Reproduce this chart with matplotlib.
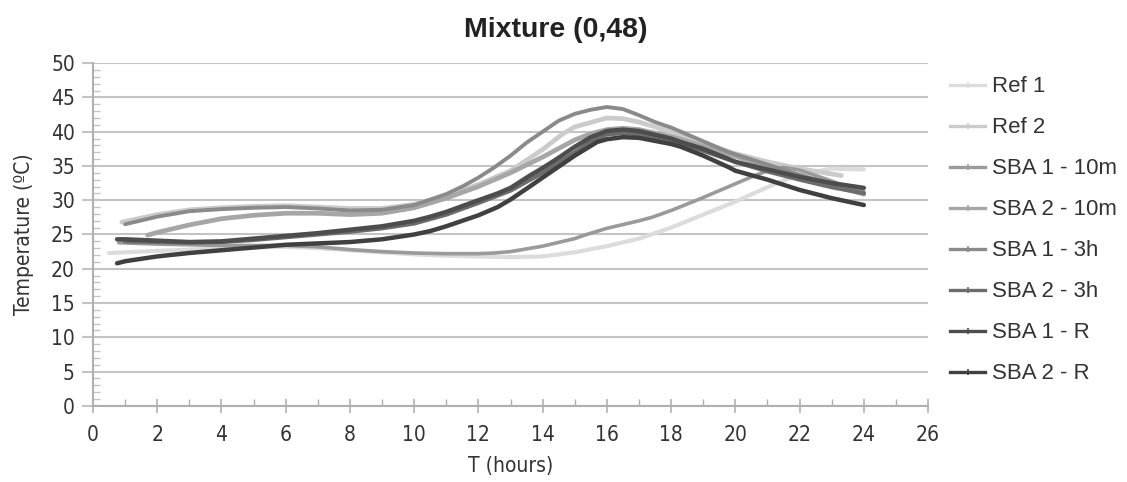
import matplotlib.pyplot as plt
from matplotlib.lines import Line2D
from matplotlib.ticker import MultipleLocator

# dados (T em horas, temperatura em ºC)
t_ref1 = [0.5, 1, 2, 3, 4, 5, 6, 7, 8, 9, 10, 11, 12, 13, 14, 15, 16, 17, 18, 19, 20, 21, 22, 23, 24]
v_ref1 = [22.3, 22.4, 22.6, 22.8, 23.0, 23.1, 23.2, 23.0, 22.7, 22.4, 22.1, 21.9, 21.8, 21.7, 21.8, 22.4,
          23.3, 24.4, 26.0, 27.9, 29.8, 31.9, 33.8, 34.6, 34.5]

t_ref2 = [0.9, 2, 3, 4, 5, 6, 7, 8, 9, 10, 11, 12, 13, 14, 14.6, 15, 16, 16.5, 17, 18, 19, 20, 21, 22, 23.3]
v_ref2 = [26.8, 27.9, 28.6, 28.9, 29.1, 29.2, 29.0, 28.8, 28.8, 29.4, 30.6, 32.3, 34.3, 37.4, 39.6, 40.7,
          42.0, 41.9, 41.4, 40.0, 38.3, 36.8, 35.6, 34.6, 33.6]

t_sba1_10m = [0.8, 2, 3, 4, 5, 6, 7, 7.5, 8, 9, 10, 11, 12, 12.5, 13, 14, 15, 15.3, 16, 17, 17.4, 18, 18.9,
              19.5, 20, 20.5, 21, 21.5, 22, 23, 24]
v_sba1_10m = [23.8, 23.6, 23.5, 23.4, 23.4, 23.4, 23.2, 23.0, 22.8, 22.5, 22.3, 22.2, 22.2, 22.3, 22.5, 23.3,
              24.4, 24.9, 25.9, 27.0, 27.5, 28.5, 30.2, 31.4, 32.4, 33.4, 34.3, 34.8, 34.4, 32.8, 31.0]

t_sba2_10m = [1.7, 2, 3, 4, 5, 6, 7, 8, 9, 10, 11, 12, 13, 14, 15, 15.5, 16, 16.5, 17, 18, 19, 20, 21, 22, 23, 24]
v_sba2_10m = [24.9, 25.3, 26.4, 27.3, 27.8, 28.1, 28.1, 27.9, 28.1, 28.9, 30.3, 32.0, 34.0, 36.3, 38.8, 39.7,
              40.3, 40.5, 40.3, 39.3, 37.9, 36.4, 35.0, 33.6, 32.2, 30.9]

t_sba1_3h = [1, 2, 3, 4, 5, 6, 7, 8, 9, 10, 11, 11.5, 12, 12.5, 13, 13.5, 14, 14.5, 15, 15.5, 16, 16.5, 17,
             17.5, 18, 18.5, 19, 19.8, 21, 22, 23, 24]
v_sba1_3h = [26.5, 27.6, 28.4, 28.7, 28.9, 29.0, 28.8, 28.5, 28.6, 29.3, 30.9, 32.0, 33.3, 34.8, 36.5, 38.4,
             40.0, 41.6, 42.6, 43.2, 43.6, 43.3, 42.4, 41.4, 40.6, 39.6, 38.6, 37.0, 35.2, 33.7, 32.3, 31.2]

t_sba2_3h = [1, 2, 3, 4, 5, 6, 7, 8, 9, 10, 11, 12, 13, 14, 15, 15.5, 16, 16.5, 17, 18, 19, 20, 21, 22, 23, 24]
v_sba2_3h = [24.0, 23.9, 23.8, 23.9, 24.2, 24.6, 25.0, 25.4, 25.9, 26.6, 27.9, 29.6, 31.4, 34.0, 37.0, 38.6,
             39.6, 39.8, 39.6, 38.6, 37.2, 35.6, 34.2, 33.0, 31.9, 31.0]

t_sba1_r = [0.75, 1, 2, 3, 4, 5, 6, 7, 8, 9, 10, 10.5, 11, 12, 12.6, 13, 13.6, 14, 14.5, 15, 15.5, 16, 16.5,
            17, 18, 18.3, 19, 19.8, 20, 21, 22, 23, 24]
v_sba1_r = [24.3, 24.3, 24.1, 23.9, 24.0, 24.4, 24.8, 25.2, 25.7, 26.2, 27.0, 27.6, 28.3, 30.0, 31.0, 31.8,
            33.6, 34.7, 36.2, 37.8, 39.2, 40.1, 40.3, 40.1, 39.0, 38.5, 37.5, 36.0, 35.6, 34.5, 33.4, 32.5, 31.8]

t_sba2_r = [0.75, 1, 2, 3, 4, 5, 6, 7, 8, 9, 10, 10.5, 11, 12, 12.6, 13, 13.6, 14, 14.5, 15, 15.7, 16, 16.5,
            17, 18, 18.3, 19, 19.8, 20, 21, 22, 23, 24]
v_sba2_r = [20.8, 21.1, 21.8, 22.3, 22.7, 23.1, 23.5, 23.7, 23.9, 24.3, 25.0, 25.5, 26.2, 27.8, 29.0, 30.1,
            32.0, 33.3, 34.9, 36.5, 38.5, 38.9, 39.2, 39.1, 38.2, 37.8, 36.5, 34.8, 34.3, 33.0, 31.5, 30.3, 29.3]

series = [
    ('Ref 1', t_ref1, v_ref1, '#dcdcdc', 3.0),
    ('Ref 2', t_ref2, v_ref2, '#cbcbcb', 3.4),
    ('SBA 1 - 10m', t_sba1_10m, v_sba1_10m, '#9a9a9a', 2.6),
    ('SBA 2 - 10m', t_sba2_10m, v_sba2_10m, '#a6a6a6', 3.4),
    ('SBA 1 - 3h', t_sba1_3h, v_sba1_3h, '#8a8a8a', 2.8),
    ('SBA 2 - 3h', t_sba2_3h, v_sba2_3h, '#6c6c6c', 3.0),
    ('SBA 1 - R', t_sba1_r, v_sba1_r, '#4d4d4d', 3.2),
    ('SBA 2 - R', t_sba2_r, v_sba2_r, '#404040', 3.2),
]

# fonte condensada para os eixos (como no original)
fonte_eixo = {'family': 'DejaVu Sans', 'stretch': 'condensed'}
fonte_texto = ['Liberation Sans', 'DejaVu Sans']

fig = plt.figure(figsize=(11.27, 4.82), dpi=100)
ax = fig.add_axes([0.0825, 0.158, 0.741, 0.711])

for nome, t, v, cor, lw in series:
    ax.plot(t, v, color=cor, linewidth=lw, solid_capstyle='round', solid_joinstyle='round', label=nome)

ax.set_xlim(0, 26)
ax.set_ylim(0, 50)
ax.xaxis.set_major_locator(MultipleLocator(2))
ax.xaxis.set_minor_locator(MultipleLocator(1))
ax.yaxis.set_major_locator(MultipleLocator(5))
ax.yaxis.set_minor_locator(MultipleLocator(1))

ax.grid(axis='y', which='major', color='#c4c4c4', linewidth=1.5)
ax.set_axisbelow(True)
for lado in ['top', 'right']:
    ax.spines[lado].set_visible(False)
for lado in ['left', 'bottom']:
    ax.spines[lado].set_color('#b0b0b0')
    ax.spines[lado].set_linewidth(1.5)

ax.tick_params(axis='x', which='major', direction='inout', length=10, width=1.2, color='#b0b0b0', pad=9)
ax.tick_params(axis='x', which='minor', direction='in', length=5, width=1.0, color='#b0b0b0')
ax.tick_params(axis='y', which='major', direction='out', length=8, width=1.5, color='#c4c4c4', pad=5)
ax.tick_params(axis='y', which='minor', direction='in', length=5, width=1.0, color='#c4c4c4')

for rotulo in ax.get_xticklabels() + ax.get_yticklabels():
    rotulo.set_family(fonte_eixo['family'])
    rotulo.set_stretch(fonte_eixo['stretch'])
    rotulo.set_fontsize(15)
    rotulo.set_color('#333333')

# titulo um pouco deslocado para a direita, como no original
fig.text(0.493, 0.938, 'Mixture (0,48)', fontsize=20.5, fontweight='bold', family=fonte_texto,
         color='#222222', ha='center', va='center')
ax.set_xlabel('T (hours)', fontsize=15, color='#333333', labelpad=8, **fonte_eixo)
ax.set_ylabel('Temperature (ºC)', fontsize=15, color='#333333', labelpad=12, **fonte_eixo)

handles = [Line2D([0], [0], color=cor, linewidth=2.4, marker='+', markersize=5, markeredgewidth=1.2)
           for nome, t, v, cor, lw in series]
fig.legend(handles, [s[0] for s in series], loc='upper left', bbox_to_anchor=(0.835, 0.86),
           frameon=False, prop={'family': fonte_texto, 'size': 16}, labelspacing=0.9,
           handlelength=1.6, handletextpad=0.3, borderaxespad=0, labelcolor='#333333')

plt.savefig('out.png')
